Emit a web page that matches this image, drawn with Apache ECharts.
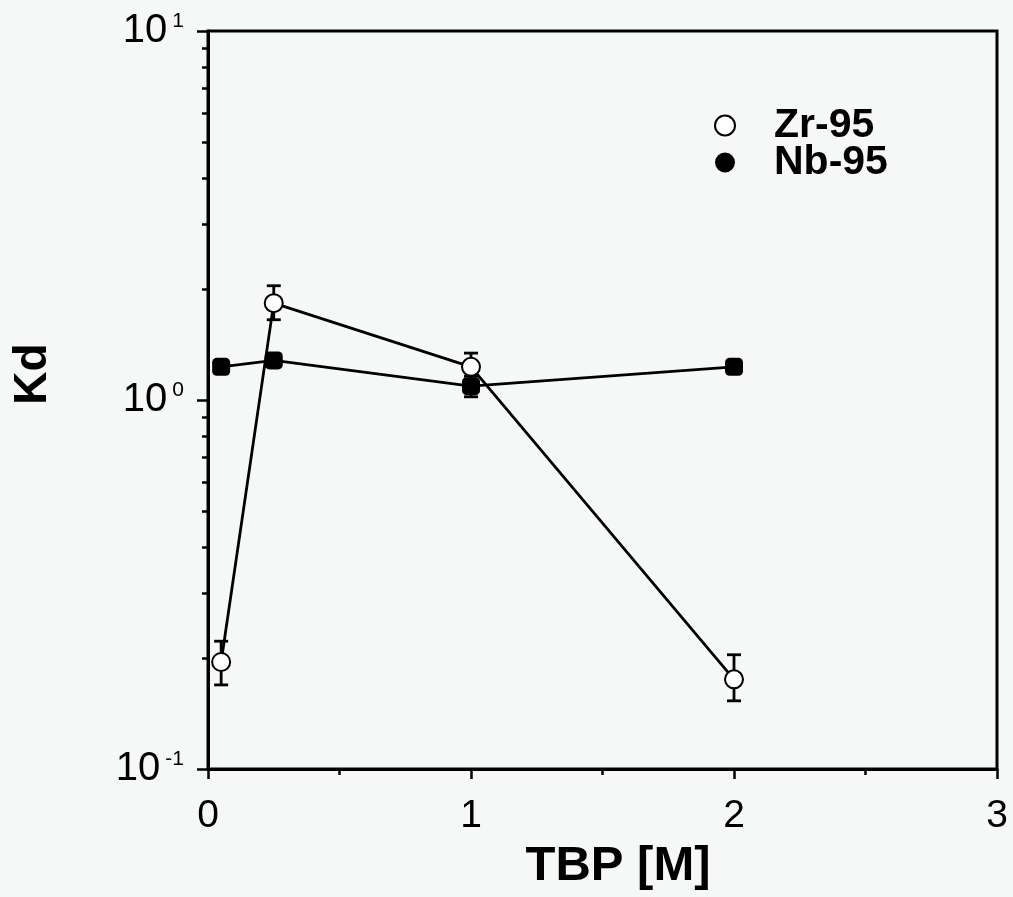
<!DOCTYPE html>
<html>
<head>
<meta charset="utf-8">
<script src="https://cdn.jsdelivr.net/npm/echarts@6/dist/echarts.min.js"></script>
<style>
  html, body { margin: 0; padding: 0; background: #f6f8f8; }
  #chart { width: 1013px; height: 897px; }
</style>
</head>
<body>
<div id="chart"></div>
<script>
// TBP concentration (M)
const tbp = [0.05, 0.25, 1, 2];

// Zr-95 distribution ratio with error bars
const zr = [0.195, 1.83, 1.23, 0.175];
const zrLow = [0.169, 1.65, 1.12, 0.153];
const zrHigh = [0.222, 2.04, 1.34, 0.204];

// Nb-95 distribution ratio with error bars
const nb = [1.23, 1.28, 1.09, 1.23];
const nbLow = [1.19, 1.24, 1.02, 1.19];
const nbHigh = [1.27, 1.32, 1.16, 1.27];

// Axis ticks and titles
const xTicks = [0, 1, 2, 3];
const yMajor = [0.1, 1, 10];
const yExp = { '0.1': '-1', '1': '0', '10': '1' };
const yMinor = [0.2, 0.3, 0.4, 0.5, 0.6, 0.7, 0.8, 0.9, 2, 3, 4, 5, 6, 7, 8, 9];
const xTitle = 'TBP [M]';
const yTitle = 'Kd';

const FONT = '"Liberation Sans", Arial, Helvetica, sans-serif';
const BG = '#f6f8f8';

function errorSeries(name, xs, lo, hi) {
  return {
    name: name + ' err',
    type: 'custom',
    z: 1,
    silent: true,
    data: xs.map((x, i) => [x, lo[i], hi[i]]),
    renderItem: function (params, api) {
      const x = api.value(0);
      const pLo = api.coord([x, api.value(1)]);
      const pHi = api.coord([x, api.value(2)]);
      const cap = 7;
      const style = { stroke: '#000', lineWidth: 2.8 };
      return {
        type: 'group',
        children: [
          { type: 'line', shape: { x1: pLo[0], y1: pLo[1], x2: pHi[0], y2: pHi[1] }, style: style },
          { type: 'line', shape: { x1: pLo[0] - cap, y1: pLo[1], x2: pLo[0] + cap, y2: pLo[1] }, style: style },
          { type: 'line', shape: { x1: pHi[0] - cap, y1: pHi[1], x2: pHi[0] + cap, y2: pHi[1] }, style: style }
        ]
      };
    }
  };
}

const chart = echarts.init(document.getElementById('chart'));
chart.setOption({
  backgroundColor: BG,
  animation: false,
  grid: {
    left: 208, right: 16, top: 31, bottom: 128,
    show: true, borderColor: '#000', borderWidth: 3, backgroundColor: 'transparent'
  },
  graphic: [
    {
      type: 'text', x: 618, y: 866,
      style: { text: xTitle, font: 'bold 49px ' + FONT, fill: '#000', align: 'center', verticalAlign: 'middle' }
    },
    {
      type: 'text', x: 33, y: 374, rotation: Math.PI / 2,
      style: { text: yTitle, font: 'bold 46px ' + FONT, fill: '#000', align: 'center', verticalAlign: 'middle' }
    }
  ],
  legend: {
    left: 709, top: 100,
    orient: 'vertical',
    itemWidth: 88, itemHeight: 20, itemGap: -4,
    textStyle: { fontFamily: FONT, fontWeight: 'bold', fontSize: 41, color: '#000', lineHeight: 35 },
    data: [
      { name: 'Zr-95', icon: 'emptyCircle', itemStyle: { color: '#000', borderColor: '#000', borderWidth: 2.5 } },
      { name: 'Nb-95', icon: 'circle', itemStyle: { color: '#000' } }
    ]
  },
  xAxis: {
    type: 'value', min: 0, max: 3, interval: 1,
    axisLine: { show: true, lineStyle: { color: '#000', width: 3 } },
    axisTick: { show: true, length: 10, lineStyle: { color: '#000', width: 2.5 } },
    minorTick: { show: true, splitNumber: 2, length: 6, lineStyle: { color: '#000', width: 2.5 } },
    splitLine: { show: false },
    axisLabel: {
      margin: 28, fontFamily: FONT, fontSize: 39, color: '#000',
      formatter: v => xTicks.includes(v) ? String(v) : ''
    }
  },
  yAxis: [
    {
      type: 'log', logBase: 10, min: 0.1, max: 10,
      axisLine: { show: true, lineStyle: { color: '#000', width: 3 } },
      axisTick: { show: true, length: 11, lineStyle: { color: '#000', width: 2.5 }, customValues: yMajor },
      splitLine: { show: false },
      axisLabel: {
        margin: 24,
        customValues: yMajor,
        formatter: v => {
          const key = String(Math.round(v * 10) / 10);
          return '{b|10}{s|' + (yExp[key] || '') + '}';
        },
        rich: {
          b: { fontFamily: FONT, fontSize: 40, color: '#000' },
          s: { fontFamily: FONT, fontSize: 21, color: '#000', padding: [0, 0, 20, 5] }
        }
      }
    },
    {
      type: 'log', logBase: 10, min: 0.1, max: 10,
      position: 'left',
      axisLine: { show: false },
      axisTick: { show: true, length: 6, lineStyle: { color: '#000', width: 2.5 }, customValues: yMinor },
      axisLabel: { show: false },
      splitLine: { show: false }
    }
  ],
  series: [
    errorSeries('Zr-95', tbp, zrLow, zrHigh),
    errorSeries('Nb-95', tbp, nbLow, nbHigh),
    {
      name: 'Nb-95', type: 'line', z: 3,
      data: tbp.map((x, i) => [x, nb[i]]),
      symbol: 'roundRect', symbolSize: 18,
      itemStyle: { color: '#000' },
      lineStyle: { color: '#000', width: 2.8 }
    },
    {
      name: 'Zr-95', type: 'line', z: 4,
      data: tbp.map((x, i) => [x, zr[i]]),
      symbol: 'emptyCircle', symbolSize: 18,
      itemStyle: { color: '#000', borderWidth: 2.8 },
      lineStyle: { color: '#000', width: 2.8 }
    }
  ]
});
</script>
</body>
</html>
